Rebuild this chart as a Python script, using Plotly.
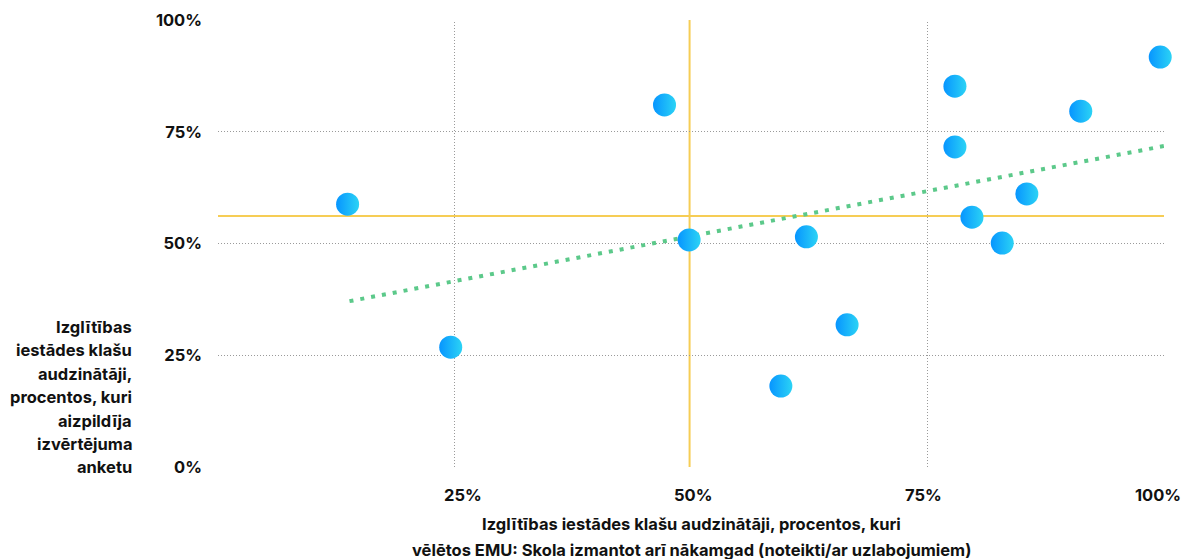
import plotly.graph_objects as go

# Data
x_vals = [0.137, 0.246, 0.472, 0.498, 0.595, 0.622, 0.665, 0.779, 0.779, 0.797, 0.829, 0.855, 0.912, 0.996]
y_vals = [0.588, 0.268, 0.810, 0.508, 0.181, 0.515, 0.318, 0.852, 0.716, 0.559, 0.501, 0.611, 0.796, 0.917]
trend_x = [0.139, 1.0]
trend_y = [0.371, 0.718]
ref_x = 0.4985
ref_y = 0.5615
x_ticks = [0.25, 0.5, 0.75, 1.0]
x_ticklabels = ["25%", "50%", "75%", "100%"]
x_grid = [0.25, 0.75]
y_ticks = [0, 0.25, 0.5, 0.75, 1.0]
y_ticklabels = ["0%", "25%", "50%", "75%", "100%"]
y_title_lines = ["Izglītības", "iestādes klašu", "audzinātāji,", "procentos, kuri",
                 "aizpildīja", "izvērtējuma", "anketu"]
x_title_lines = ["Izglītības iestādes klašu audzinātāji, procentos, kuri",
                 "vēlētos EMU: Skola izmantot arī nākamgad (noteikti/ar uzlabojumiem)"]

FONT = "Inter"
FS = 16.5
TXT = "#111111"
GRID = "#9a9a9a"
X_LABEL_SHIFT = [8, 2, -4, -6]

fig = go.Figure()

# vertical grid lines
for v in x_grid:
    fig.add_shape(type="line", xref="x", yref="paper", x0=v, x1=v, y0=0, y1=1,
                  line=dict(color=GRID, width=1, dash="1px,2px"), layer="below")

# reference lines
fig.add_shape(type="line", xref="paper", yref="y", x0=0, x1=1, y0=ref_y, y1=ref_y,
              line=dict(color="#f6cd55", width=2), layer="below")
fig.add_shape(type="line", xref="x", yref="paper", x0=ref_x, x1=ref_x, y0=0, y1=1,
              line=dict(color="#f6cd55", width=2), layer="below")

fig.add_trace(go.Scatter(
    x=trend_x, y=trend_y, mode="lines",
    line=dict(color="#5cc98a", width=4, dash="4px,7px"),
    hoverinfo="skip", showlegend=False))

fig.add_trace(go.Scatter(
    x=x_vals, y=y_vals, mode="markers",
    marker=dict(size=23, color="#0795ff", line=dict(width=0),
                gradient=dict(type="horizontal", color="#2bd3f5")),
    cliponaxis=False, showlegend=False))

fig.update_layout(
    width=1184, height=559,
    margin=dict(l=218, r=20, t=20, b=92, autoexpand=False),
    plot_bgcolor="white", paper_bgcolor="white",
    font=dict(family=FONT, size=FS, color=TXT, weight=700),
    xaxis=dict(range=[0, 1], tickvals=x_ticks, showticklabels=False,
               showgrid=False, zeroline=False, showline=False, automargin=False),
    yaxis=dict(range=[0, 1], tickvals=y_ticks, ticktext=y_ticklabels,
               showgrid=True, gridcolor=GRID, griddash="1px,2px", gridwidth=1,
               zeroline=False, showline=False, ticklabelstandoff=15,
               automargin=False,
               tickfont=dict(family=FONT, size=FS, color=TXT, weight=700)),
)

# x tick labels
for v, lab, sh in zip(x_ticks, x_ticklabels, X_LABEL_SHIFT):
    fig.add_annotation(text=lab, xref="x", yref="paper", x=v, y=(467 - 495) / 447,
                       xanchor="center", yanchor="middle", xshift=sh, showarrow=False,
                       font=dict(family=FONT, size=FS, color=TXT, weight=700))

# y-axis title (horizontal, right-aligned lines)
for i, line in enumerate(y_title_lines):
    py = 327 + i * 23.4
    fig.add_annotation(text=line, xref="paper", yref="paper",
                       x=(134 - 218) / 946, y=(467 - py) / 447,
                       xanchor="right", yanchor="middle", showarrow=False,
                       font=dict(family=FONT, size=FS, color=TXT, weight=700))

# x-axis title
for i, line in enumerate(x_title_lines):
    py = 524 + i * 26
    fig.add_annotation(text=line, xref="paper", yref="paper",
                       x=0.5, y=(467 - py) / 447,
                       xanchor="center", yanchor="middle", showarrow=False,
                       font=dict(family=FONT, size=FS, color=TXT, weight=700))

fig.write_html("out.html", config={"displayModeBar": False},
               post_script="document.body.style.margin='0';document.body.style.overflow='hidden';")
